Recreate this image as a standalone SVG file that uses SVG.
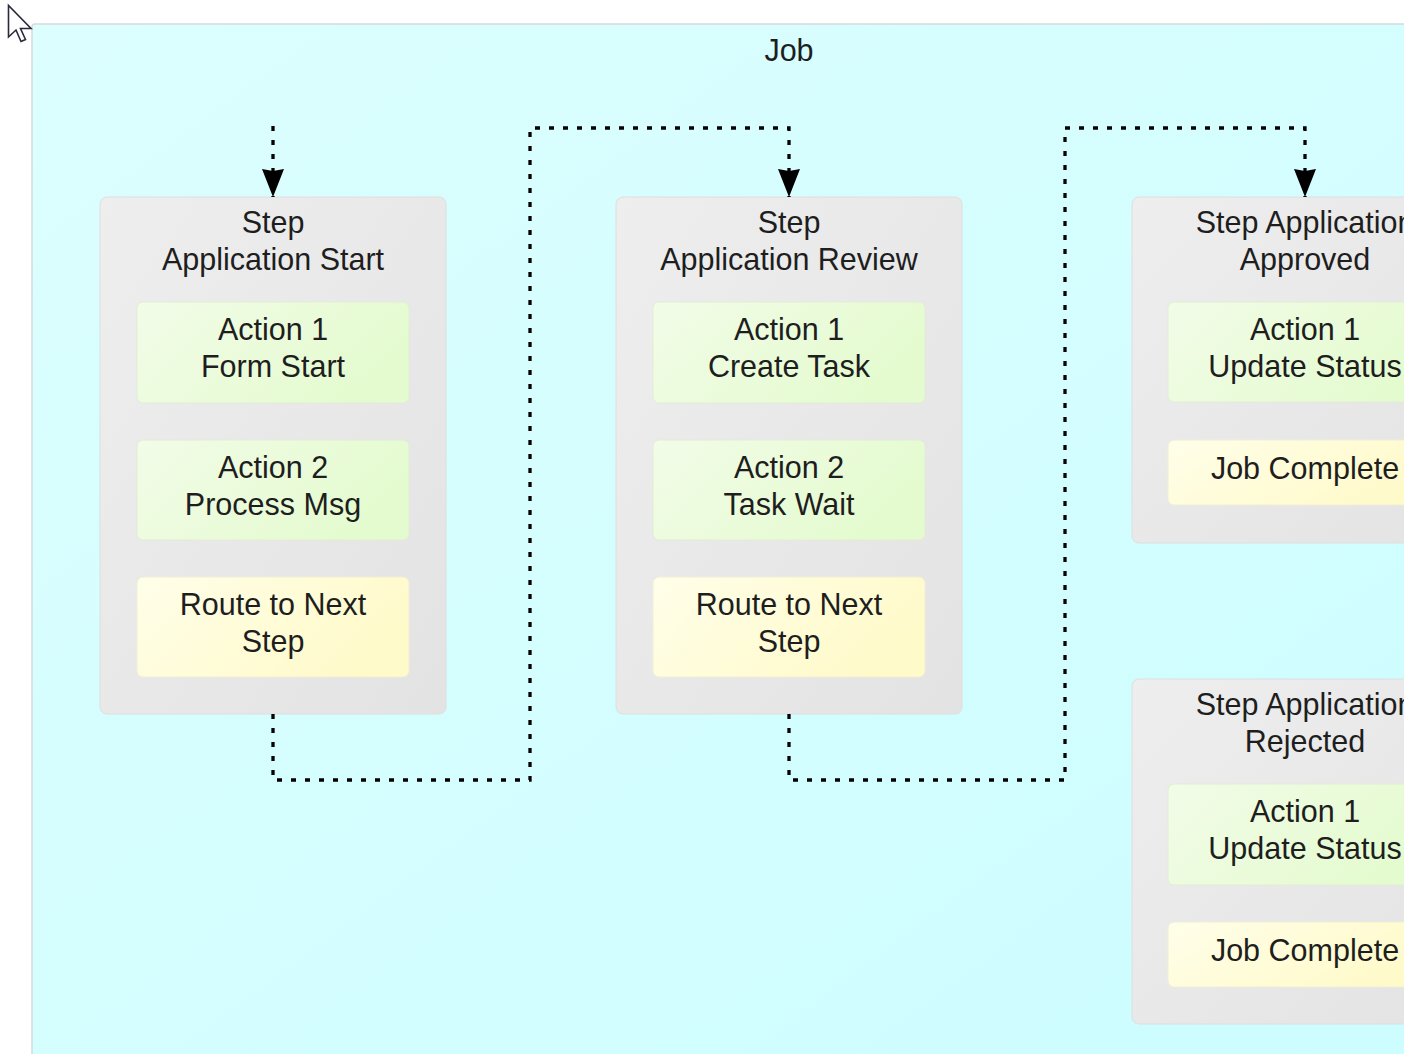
<svg xmlns="http://www.w3.org/2000/svg" width="1421" height="1054" viewBox="0 0 1421 1054">
  <style>
    .t { font-family: "Liberation Sans", Arial, sans-serif; font-size: 30.5px; fill: #1e1e1e; text-anchor: middle; }
    .step { fill: url(#gStep); stroke: #dedede; stroke-width: 1; }
    .act { fill: url(#gAct); stroke: #e2ecd6; stroke-width: 1; }
    .route { fill: url(#gRoute); stroke: #f0eed6; stroke-width: 1; }
    .conn { fill: none; stroke: #000; stroke-width: 3.3; stroke-dasharray: 5 9; marker-end: url(#arrow); }
  </style>
  <defs>
    <linearGradient id="gJob" x1="0" y1="0" x2="1" y2="1">
      <stop offset="0" stop-color="#dcfefe"/>
      <stop offset="1" stop-color="#ccfdff"/>
    </linearGradient>
    <linearGradient id="gStep" x1="0" y1="0" x2="1" y2="1">
      <stop offset="0" stop-color="#eeeeee"/>
      <stop offset="1" stop-color="#e3e3e3"/>
    </linearGradient>
    <linearGradient id="gAct" x1="0" y1="0" x2="1" y2="0.4">
      <stop offset="0" stop-color="#f2fce8"/>
      <stop offset="1" stop-color="#e4fbcf"/>
    </linearGradient>
    <linearGradient id="gRoute" x1="0" y1="0" x2="1" y2="0.4">
      <stop offset="0" stop-color="#fffee9"/>
      <stop offset="1" stop-color="#fffaca"/>
    </linearGradient>
    <marker id="arrow" markerUnits="userSpaceOnUse" markerWidth="30" markerHeight="26" viewBox="0 -13 30 26" refX="28" refY="0" orient="auto">
      <path d="M0,-11 L28,0 L0,11 L2,0 Z" fill="#000"/>
    </marker>
    <clipPath id="view">
      <rect x="0" y="0" width="1404" height="1054"/>
    </clipPath>
  </defs>

  <rect x="0" y="0" width="1421" height="1054" fill="#ffffff"/>

  <g clip-path="url(#view)">
    <g id="job">
      <rect x="32" y="24" width="1420" height="1060" rx="3" fill="url(#gJob)" stroke="#d4dcdc" stroke-width="1.5"/>
      <text class="t" x="789" y="61">Job</text>
    </g>

    <g id="step-start">
      <rect class="step" x="100" y="197" width="346" height="517" rx="7"/>
      <text class="t" x="273" y="233">Step</text>
      <text class="t" x="273" y="270">Application Start</text>
      <g id="start-action1">
        <rect class="act" x="137" y="302" width="272" height="101" rx="6"/>
        <text class="t" x="273" y="340">Action 1</text>
        <text class="t" x="273" y="377">Form Start</text>
      </g>
      <g id="start-action2">
        <rect class="act" x="137" y="440" width="272" height="100" rx="6"/>
        <text class="t" x="273" y="478">Action 2</text>
        <text class="t" x="273" y="515">Process Msg</text>
      </g>
      <g id="start-route">
        <rect class="route" x="137" y="577" width="272" height="100" rx="6"/>
        <text class="t" x="273" y="615">Route to Next</text>
        <text class="t" x="273" y="652">Step</text>
      </g>
    </g>

    <g id="step-review">
      <rect class="step" x="616" y="197" width="346" height="517" rx="7"/>
      <text class="t" x="789" y="233">Step</text>
      <text class="t" x="789" y="270">Application Review</text>
      <g id="review-action1">
        <rect class="act" x="653" y="302" width="272" height="101" rx="6"/>
        <text class="t" x="789" y="340">Action 1</text>
        <text class="t" x="789" y="377">Create Task</text>
      </g>
      <g id="review-action2">
        <rect class="act" x="653" y="440" width="272" height="100" rx="6"/>
        <text class="t" x="789" y="478">Action 2</text>
        <text class="t" x="789" y="515">Task Wait</text>
      </g>
      <g id="review-route">
        <rect class="route" x="653" y="577" width="272" height="100" rx="6"/>
        <text class="t" x="789" y="615">Route to Next</text>
        <text class="t" x="789" y="652">Step</text>
      </g>
    </g>

    <g id="step-approved">
      <rect class="step" x="1132" y="197" width="346" height="346" rx="7"/>
      <text class="t" x="1305" y="233">Step Application</text>
      <text class="t" x="1305" y="270">Approved</text>
      <g id="approved-action1">
        <rect class="act" x="1168" y="302" width="272" height="100" rx="6"/>
        <text class="t" x="1305" y="340">Action 1</text>
        <text class="t" x="1305" y="377">Update Status</text>
      </g>
      <g id="approved-complete">
        <rect class="route" x="1168" y="440" width="272" height="65" rx="6"/>
        <text class="t" x="1305" y="479">Job Complete</text>
      </g>
    </g>

    <g id="step-rejected">
      <rect class="step" x="1132" y="679" width="346" height="345" rx="7"/>
      <text class="t" x="1305" y="715">Step Application</text>
      <text class="t" x="1305" y="752">Rejected</text>
      <g id="rejected-action1">
        <rect class="act" x="1168" y="784" width="272" height="101" rx="6"/>
        <text class="t" x="1305" y="822">Action 1</text>
        <text class="t" x="1305" y="859">Update Status</text>
      </g>
      <g id="rejected-complete">
        <rect class="route" x="1168" y="922" width="272" height="65" rx="6"/>
        <text class="t" x="1305" y="961">Job Complete</text>
      </g>
    </g>

    <g id="connectors">
      <path class="conn" d="M273,126 V197"/>
      <path class="conn" d="M273,714 V780 H530 V128 H789 V197"/>
      <path class="conn" d="M789,714 V780 H1065 V128 H1305 V197"/>
    </g>
  </g>

  <g id="cursor">
    <path d="M8.5,5.5 L8.5,37 L16,30 L21,41.5 L25.5,39.5 L20.5,28.5 L31,28.5 Z" fill="#ffffff" stroke="#2a2a3a" stroke-width="1.6" stroke-linejoin="miter"/>
  </g>
</svg>
